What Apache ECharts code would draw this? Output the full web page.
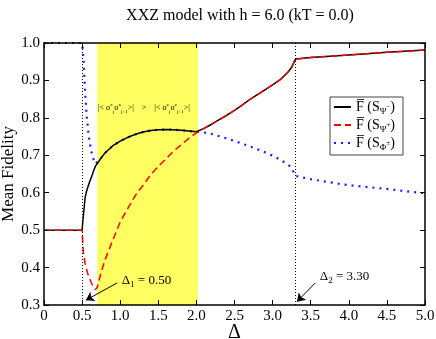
<!DOCTYPE html>
<html lang="en">
<head>
    <meta charset="UTF-8">
    <title>XXZ model fidelity</title>
    <script src="https://cdn.jsdelivr.net/npm/echarts@6/dist/echarts.min.js"></script>
    <style>
        html, body { margin: 0; padding: 0; background: #fff; }
    </style>
</head>
<body>
<div id="main" style="width: 436px;height:339px;"></div>

<script>
    // Delta values (x) shared by the three curves
    var delta = [0, 0.5, 0.51, 0.52, 0.54, 0.56, 0.58, 0.6, 0.625, 0.65, 0.675, 0.7, 0.75, 0.8, 0.9,
        1.0, 1.1, 1.2, 1.3, 1.4, 1.5, 1.6, 1.7, 1.8, 1.9, 2.0, 2.1, 2.2, 2.3, 2.4, 2.5, 2.6, 2.7,
        2.8, 2.9, 3.0, 3.1, 3.2, 3.25, 3.3, 3.5, 4.0, 4.5, 5.0];

    // F(S_psi-) : black solid
    var fPsiMinus = [0.5, 0.5, 0.525, 0.545, 0.588, 0.605, 0.618, 0.63, 0.643, 0.658, 0.671, 0.678, 0.693, 0.706, 0.725,
        0.738, 0.748, 0.756, 0.762, 0.766, 0.768, 0.769, 0.768, 0.767, 0.765, 0.763, 0.772, 0.783, 0.795, 0.807, 0.82, 0.834, 0.849,
        0.862, 0.875, 0.888, 0.902, 0.922, 0.935, 0.957, 0.961, 0.968, 0.975, 0.981];

    // F(S_psi+) : red dashed
    var fPsiPlus = [0.5, 0.5, 0.46, 0.435, 0.41, 0.394, 0.38, 0.37, 0.358, 0.347, 0.341, 0.348, 0.388, 0.42, 0.472,
        0.522, 0.558, 0.593, 0.62, 0.648, 0.67, 0.69, 0.711, 0.728, 0.745, 0.76, 0.772, 0.783, 0.795, 0.807, 0.82, 0.834, 0.849,
        0.862, 0.875, 0.888, 0.902, 0.922, 0.935, 0.957, 0.961, 0.968, 0.975, 0.981];

    // F(S_phi+-) : blue dotted
    var fPhi = [1.0, 1.0, 0.978, 0.95, 0.865, 0.806, 0.765, 0.733, 0.707, 0.689, 0.677, 0.678, 0.693, 0.706, 0.725,
        0.738, 0.748, 0.756, 0.762, 0.766, 0.768, 0.769, 0.768, 0.767, 0.765, 0.763, 0.761, 0.757, 0.751, 0.745, 0.738, 0.731, 0.724,
        0.716, 0.708, 0.699, 0.688, 0.676, 0.666, 0.645, 0.636, 0.62, 0.61, 0.598];

    var xTicks = [0, 5, 0.5];      // min, max, step
    var yTicks = [0.3, 1.0, 0.1];
    var critical = [0.5, 3.3];     // Delta_1, Delta_2
    var band = [0.7, 2.02];        // yellow region

    var serif = '"Liberation Serif", "DejaVu Serif", serif';

    function pairs(ys) {
        return delta.map(function (x, i) { return [x, ys[i]]; });
    }

    function frameAxis(pos, isX, showLabel) {
        var ax = {
            type: 'value',
            position: pos,
            min: isX ? xTicks[0] : yTicks[0],
            max: isX ? xTicks[1] : yTicks[1],
            interval: isX ? xTicks[2] : yTicks[2],
            z: 10,
            nameMoveOverlap: false,
            axisLine: {show: true, onZero: false, lineStyle: {color: '#000', width: 1.5}},
            axisTick: {show: true, inside: true, length: 5, lineStyle: {color: '#000', width: 1}},
            splitLine: {show: false},
            axisLabel: {
                show: showLabel,
                color: '#000',
                fontFamily: serif,
                fontSize: 15,
                margin: 4,
                formatter: function (v) {
                    if (isX && v === 0) return '0';
                    return v.toFixed(1);
                }
            }
        };
        return ax;
    }

    var xMain = frameAxis('bottom', true, true);
    xMain.name = 'Δ';
    xMain.nameLocation = 'middle';
    xMain.nameGap = 18;
    xMain.nameTextStyle = {fontFamily: serif, fontSize: 20, color: '#000'};

    var yMain = frameAxis('left', false, true);
    yMain.name = 'Mean Fidelity';
    yMain.nameLocation = 'middle';
    yMain.nameGap = 27;
    yMain.nameTextStyle = {fontFamily: serif, fontSize: 17, color: '#000'};

    var legendRich = {
        f: {fontFamily: serif, fontSize: 14, color: '#000', lineHeight: 18},
        sub: {fontFamily: serif, fontSize: 9, color: '#000', verticalAlign: 'bottom', lineHeight: 18},
        sup: {fontFamily: serif, fontSize: 7, color: '#000', verticalAlign: 'middle', lineHeight: 14}
    };
    var legendText = {
        'psiMinus': '{f|F\u0305 (S}{sub|Ψ}{sup|\u2212}{f|)}',
        'psiPlus': '{f|F\u0305 (S}{sub|Ψ}{sup|+}{f|)}',
        'phi': '{f|F\u0305 (S}{sub|Φ}{sup|±}{f|)}'
    };

    var annRich = {
        d: {fontFamily: serif, fontSize: 13, color: '#000'},
        s: {fontFamily: serif, fontSize: 9, color: '#000', verticalAlign: 'bottom', lineHeight: 17}
    };
    var bandRich = {
        m: {fontFamily: serif, fontSize: 8, color: '#000', lineHeight: 12},
        p: {fontFamily: serif, fontSize: 5, color: '#000', verticalAlign: 'top', lineHeight: 12},
        b: {fontFamily: serif, fontSize: 5, color: '#000', verticalAlign: 'bottom', lineHeight: 12}
    };

    var myChart = echarts.init(document.getElementById('main'));
    var option = {
        animation: false,
        backgroundColor: '#fff',
        title: {
            text: 'XXZ model with h = 6.0 (kT = 0.0)',
            left: 235,
            top: 3,
            textAlign: 'center',
            textStyle: {fontFamily: serif, fontSize: 16, fontWeight: 'normal', color: '#000'}
        },
        grid: {left: 44, right: 11, top: 43, bottom: 34, outerBoundsMode: 'none', containLabel: false},
        legend: {
            orient: 'vertical',
            left: 330,
            top: 97,
            padding: [3, 8, 3, 3],
            itemGap: 2,
            itemWidth: 17,
            itemHeight: 10,
            borderColor: '#444',
            borderWidth: 1,
            borderRadius: 0,
            backgroundColor: '#fff',
            itemStyle: {opacity: 0},
            data: ['psiMinus', 'psiPlus', 'phi'],
            formatter: function (name) { return legendText[name]; },
            textStyle: {rich: legendRich}
        },
        xAxis: [xMain, frameAxis('top', true, false)],
        yAxis: [yMain, frameAxis('right', false, false)],
        series: [
            {
                name: 'annot',
                type: 'line',
                data: [],
                z: 1,
                silent: true,
                markArea: {
                    silent: true,
                    itemStyle: {color: '#ffff62'},
                    data: [[{xAxis: band[0]}, {xAxis: band[1]}]]
                },
                markLine: {
                    silent: true,
                    symbol: 'none',
                    label: {show: false},
                    lineStyle: {color: '#000', type: [1, 2], width: 1},
                    data: critical.map(function (c) { return [{coord: [c, yTicks[0]]}, {coord: [c, yTicks[1]]}]; })
                        .concat([
                            [{coord: [0.96, 0.359], symbol: 'none', lineStyle: {type: 'solid'}},
                             {coord: [0.55, 0.313], symbol: 'arrow', symbolSize: 8, lineStyle: {type: 'solid'}}],
                            [{coord: [3.56, 0.359], symbol: 'none', lineStyle: {type: 'solid'}},
                             {coord: [3.32, 0.309], symbol: 'arrow', symbolSize: 8, lineStyle: {type: 'solid'}}]
                        ])
                },
                markPoint: {
                    silent: true,
                    symbol: 'circle',
                    symbolSize: 0,
                    data: [
                        {coord: [1.02, 0.364], label: {show: true, position: 'right', distance: 0,
                            formatter: '{d|Δ}{s|1}{d| = 0.50}', rich: annRich}},
                        {coord: [3.62, 0.377], label: {show: true, position: 'right', distance: 0,
                            formatter: '{d|Δ}{s|2}{d| = 3.30}', rich: annRich}},
                        {coord: [1.31, 0.827], label: {show: true, position: 'inside', distance: 0,
                            formatter: '{m||< σ}{p|x}{b|j}{m|σ}{p|x}{b|j+1}{m|>|    >    |< σ}{p|z}{b|j}{m|σ}{p|z}{b|j+1}{m|>|}',
                            rich: bandRich}}
                    ]
                }
            },
            {
                name: 'phi',
                type: 'line',
                data: pairs(fPhi),
                symbol: 'none',
                z: 3,
                lineStyle: {color: '#1a1aff', width: 2.2, type: [2, 5], cap: 'butt'},
                itemStyle: {color: '#1a1aff'}
            },
            {
                name: 'psiPlus',
                type: 'line',
                data: pairs(fPsiPlus),
                symbol: 'none',
                z: 4,
                lineStyle: {color: '#ff0000', width: 1.5, type: [7, 4]},
                itemStyle: {color: '#ff0000'}
            },
            {
                name: 'psiMinus',
                type: 'line',
                data: pairs(fPsiMinus),
                symbol: 'none',
                z: 3,
                lineStyle: {color: '#000', width: 1.5, type: 'solid'},
                itemStyle: {color: '#000'}
            }
        ]
    };
    myChart.setOption(option);
</script>
</body>
</html>
